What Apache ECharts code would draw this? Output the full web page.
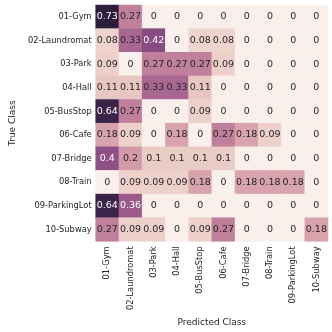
<!DOCTYPE html>
<html><head><meta charset="utf-8">
<script src="https://cdn.jsdelivr.net/npm/echarts@6/dist/echarts.min.js"></script>
<style>html,body{margin:0;padding:0;background:#fff}#c{width:332px;height:332px}</style>
</head><body><div id="c"></div>
<script>
const classes = ['01-Gym','02-Laundromat','03-Park','04-Hall','05-BusStop','06-Cafe','07-Bridge','08-Train','09-ParkingLot','10-Subway'];
const row01 = [0.73,0.27,0,0,0,0,0,0,0,0];
const row02 = [0.08,0.33,0.42,0,0.08,0.08,0,0,0,0];
const row03 = [0.09,0,0.27,0.27,0.27,0.09,0,0,0,0];
const row04 = [0.11,0.11,0.33,0.33,0.11,0,0,0,0,0];
const row05 = [0.64,0.27,0,0,0.09,0,0,0,0,0];
const row06 = [0.18,0.09,0,0.18,0,0.27,0.18,0.09,0,0];
const row07 = [0.4,0.2,0.1,0.1,0.1,0.1,0,0,0,0];
const row08 = [0,0.09,0.09,0.09,0.18,0,0.18,0.18,0.18,0];
const row09 = [0.64,0.36,0,0,0,0,0,0,0,0];
const row10 = [0.27,0.09,0.09,0,0.09,0.27,0,0,0,0.18];
const rows = [row01,row02,row03,row04,row05,row06,row07,row08,row09,row10];

const data = [];
rows.forEach((r, i) => r.forEach((v, j) => {
  data.push({value: [j, i, v], label: {color: v > 0.35 ? '#ffffff' : '#262626'}});
}));

const chart = echarts.init(document.getElementById('c'));
chart.setOption({
  animation: false,
  grid: {left: 78, right: 4, top: 5, bottom: 79},
  xAxis: {
    type: 'category', data: classes,
    name: 'Predicted Class', nameLocation: 'middle', nameGap: 64,
    nameTextStyle: {fontFamily: 'DejaVu Sans', fontSize: 9, color: '#262626'},
    axisLine: {show: false}, axisTick: {show: false}, splitLine: {show: false},
    axisLabel: {rotate: 90, interval: 0, fontFamily: 'DejaVu Sans', fontSize: 8.3, color: '#262626', margin: 5}
  },
  yAxis: {
    type: 'category', data: classes, inverse: true,
    name: 'True Class', nameLocation: 'middle', nameGap: 69,
    nameTextStyle: {fontFamily: 'DejaVu Sans', fontSize: 9, color: '#262626'},
    axisLine: {show: false}, axisTick: {show: false}, splitLine: {show: false},
    axisLabel: {interval: 0, fontFamily: 'DejaVu Sans', fontSize: 8.3, color: '#262626', margin: 4}
  },
  visualMap: {
    show: false, min: 0, max: 0.73, dimension: 2,
    inRange: {color: ['#f9f0ec','#ecd0c9','#d8a2ac','#bf7e9a','#9a588a','#7a427c','#583266','#3b2449','#2d1e3e']}
  },
  series: [{
    type: 'heatmap', data: data,
    label: {show: true, fontFamily: 'DejaVu Sans', fontSize: 9.5,
      formatter: p => String(p.value[2])},
    itemStyle: {borderWidth: 0}
  }]
});
</script></body></html>
